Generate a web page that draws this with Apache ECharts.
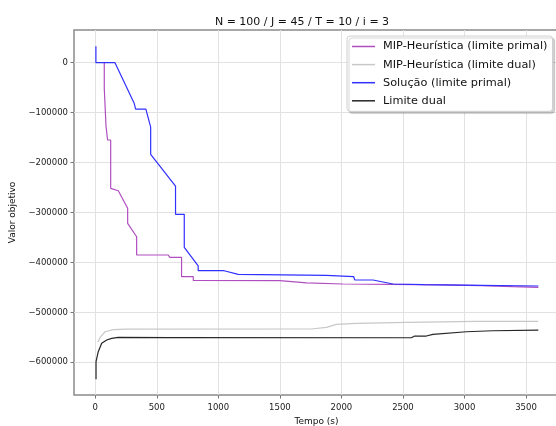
<!DOCTYPE html>
<html><head><meta charset="utf-8">
<script src="https://cdn.jsdelivr.net/npm/echarts@6/dist/echarts.min.js"></script>
<style>html,body{margin:0;padding:0;background:#fff}#c{width:556px;height:426px}</style>
</head><body><div id="c"></div>
<script>
const titleText = 'N = 100 / J = 45 / T = 10 / i = 3';
const xTicks = [0, 500, 1000, 1500, 2000, 2500, 3000, 3500];
const yTicks = [-600000, -500000, -400000, -300000, -200000, -100000, 0];
const seriesNames = ['MIP-Heurística (limite primal)', 'MIP-Heurística (limite dual)', 'Solução (limite primal)', 'Limite dual'];

const heurPrimalT = [73, 73, 87, 87, 100, 100, 125, 125, 187, 263, 263, 336, 336, 593, 606, 701, 701, 796, 796, 1500, 1716, 2013, 2400, 2800, 3136, 3393, 3600];
const heurPrimalV = [0, -51300, -51300, -126800, -128000, -154800, -154800, -251600, -256400, -291600, -321700, -348500, -385100, -385100, -389700, -389700, -428600, -428600, -436200, -436600, -441000, -443200, -444000, -445000, -446500, -448600, -449800];

const heurDualT = [20, 44, 79, 146, 250, 1756, 1878, 1959, 2122, 2527, 3095, 3600];
const heurDualV = [-560000, -548800, -538800, -534500, -533500, -533300, -530000, -524000, -522000, -520000, -518000, -518000];

const solT = [5, 5, 160, 316, 328, 411, 450, 450, 652, 652, 723, 723, 836, 836, 1047, 1161, 1878, 2100, 2108, 2257, 2419, 2676, 3136, 3600];
const solV = [33000, 0, 0, -81300, -93000, -93000, -129000, -183500, -247000, -303600, -303600, -369700, -407000, -416600, -416600, -424000, -425800, -428600, -435000, -435200, -443200, -444600, -445800, -447200];

const dualT = [6, 6, 24, 52, 93, 133, 187, 600, 2568, 2595, 2690, 2744, 3015, 3231, 3600];
const dualV = [-634000, -598800, -578800, -562000, -555400, -552000, -550000, -550500, -550800, -547400, -547400, -544000, -538800, -536800, -535400];

const zip = (t, v) => t.map((x, i) => [x, v[i]]);
const colors = ['#b04ec0', '#c8c8c8', '#3030ff', '#262626'];
const data = [zip(heurPrimalT, heurPrimalV), zip(heurDualT, heurDualV), zip(solT, solV), zip(dualT, dualV)];

const chart = echarts.init(document.getElementById('c'), null, {renderer: 'canvas'});
const font = 'DejaVu Sans';
chart.setOption({
  animation: false,
  textStyle: {fontFamily: font},
  title: {
    text: titleText, left: 297, top: 12, textAlign: 'center',
    textStyle: {fontFamily: font, fontSize: 11, fontWeight: 'normal', color: '#111'}
  },
  grid: {left: 74, top: 30, right: -3, bottom: 31, outerBoundsMode: 'none', containLabel: false,
    show: true, borderColor: '#8a8a8a', borderWidth: 1.5, backgroundColor: 'transparent'},
  legend: {
    orient: 'vertical', left: 347, top: 36,
    backgroundColor: '#fff', borderColor: '#d0d0d0', borderWidth: 1, borderRadius: 3,
    padding: [5, 5, 5, 5], itemGap: 7.1, itemWidth: 23, itemHeight: 1.5, icon: 'rect',
    shadowColor: 'rgba(0,0,0,0.18)', shadowOffsetX: 2, shadowOffsetY: 2, shadowBlur: 1,
    textStyle: {fontFamily: font, fontSize: 11.3, color: '#111', padding: [0, 0, 0, 3]},
    data: seriesNames
  },
  xAxis: {
    type: 'value', min: -173, max: 3768,
    name: 'Tempo (s)', nameLocation: 'middle', nameGap: 21,
    nameTextStyle: {fontFamily: font, fontSize: 9, color: '#111'},
    axisLine: {show: false, onZero: false},
    axisTick: {show: true, length: 3.5, customValues: xTicks, lineStyle: {color: '#777'}},
    axisLabel: {customValues: xTicks, fontFamily: font, fontSize: 8.5, color: '#222', margin: 8,
      formatter: v => String(v)},
    splitLine: {show: true, lineStyle: {color: '#e2e2e2', width: 1}}
  },
  yAxis: {
    type: 'value', min: -665500, max: 65500,
    name: 'Valor objetivo', nameLocation: 'middle', nameGap: 56, nameRotate: 90,
    nameTextStyle: {fontFamily: font, fontSize: 9, color: '#111'},
    axisLine: {show: false, onZero: false},
    axisTick: {show: true, length: 3.5, customValues: yTicks, lineStyle: {color: '#777'}},
    axisLabel: {customValues: yTicks, fontFamily: font, fontSize: 8.5, color: '#222', margin: 6,
      formatter: v => (v < 0 ? '\u2212' + Math.abs(v) : String(v))},
    splitLine: {show: true, lineStyle: {color: '#e2e2e2', width: 1}}
  },
  series: seriesNames.map((n, i) => ({
    name: n, type: 'line', data: data[i], symbol: 'none', showSymbol: false,
    lineStyle: {color: colors[i], width: 1.2}, itemStyle: {color: colors[i]},
    z: [2, 1, 3, 4][i]
  }))
});
</script></body></html>
